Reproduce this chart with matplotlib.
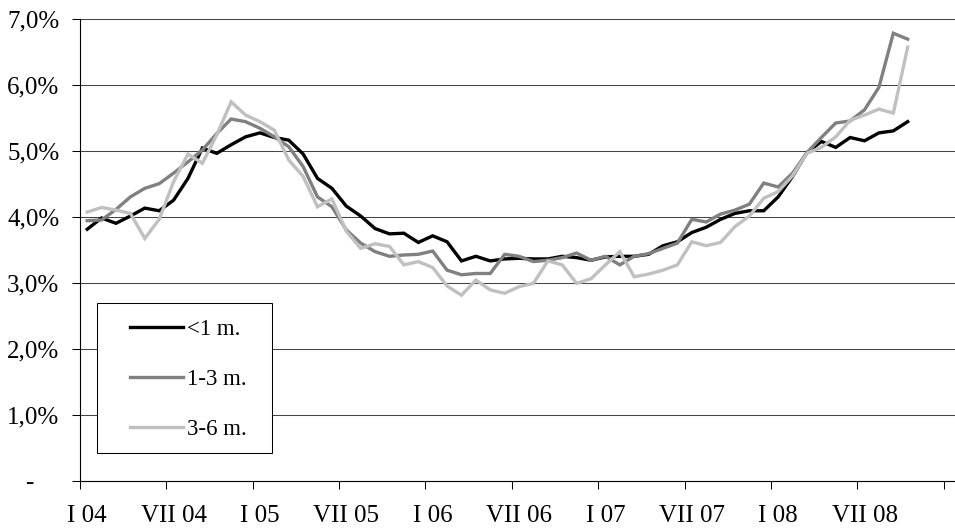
import matplotlib
matplotlib.use('Agg')
import matplotlib.pyplot as plt
from matplotlib.patches import Rectangle
from matplotlib.ticker import FixedLocator, FuncFormatter

# Monthly data, Jan 2004 .. Oct 2008
month_index = list(range(58))
tick_labels = ['I 04', 'VII 04', 'I 05', 'VII 05', 'I 06',
               'VII 06', 'I 07', 'VII 07', 'I 08', 'VII 08']
series_names = ['<1 m.', '1-3 m.', '3-6 m.']

under_1m = [3.81, 3.98, 3.90, 4.01, 4.13, 4.09, 4.25, 4.58, 5.04, 4.96,
            5.09, 5.21, 5.27, 5.20, 5.16, 4.95, 4.58, 4.43, 4.16, 4.01,
            3.82, 3.74, 3.75, 3.61, 3.71, 3.62, 3.33, 3.40, 3.33, 3.36,
            3.37, 3.36, 3.36, 3.40, 3.38, 3.34, 3.39, 3.40, 3.40, 3.43,
            3.56, 3.62, 3.76, 3.84, 3.96, 4.05, 4.09, 4.09, 4.30, 4.61,
            4.97, 5.14, 5.05, 5.20, 5.15, 5.27, 5.30, 5.44]
m1_3 = [3.94, 3.95, 4.11, 4.30, 4.43, 4.50, 4.66, 4.83, 5.01, 5.26,
        5.48, 5.44, 5.34, 5.21, 5.06, 4.76, 4.30, 4.15, 3.80, 3.60,
        3.47, 3.40, 3.42, 3.43, 3.48, 3.19, 3.12, 3.14, 3.14, 3.43,
        3.40, 3.32, 3.34, 3.38, 3.45, 3.34, 3.40, 3.27, 3.40, 3.44,
        3.52, 3.60, 3.96, 3.92, 4.04, 4.10, 4.19, 4.51, 4.45, 4.66,
        4.97, 5.20, 5.42, 5.45, 5.62, 5.96, 6.78, 6.69]
m3_6 = [4.07, 4.14, 4.10, 4.05, 3.67, 3.96, 4.53, 4.95, 4.81, 5.24,
        5.74, 5.54, 5.44, 5.31, 4.86, 4.61, 4.15, 4.27, 3.78, 3.52,
        3.59, 3.55, 3.27, 3.32, 3.23, 2.95, 2.81, 3.04, 2.89, 2.84,
        2.94, 2.99, 3.33, 3.27, 2.99, 3.06, 3.27, 3.47, 3.09, 3.13,
        3.19, 3.27, 3.62, 3.56, 3.61, 3.85, 4.01, 4.28, 4.38, 4.62,
        4.96, 5.05, 5.21, 5.46, 5.54, 5.63, 5.57, 6.57]
y_ticks = [0, 1, 2, 3, 4, 5, 6, 7]

series = [under_1m, m1_3, m3_6]
colors = ['#000000', '#808080', '#C0C0C0']

plt.rcParams['font.family'] = ['Liberation Serif', 'DejaVu Serif']

W, H = 955, 529
fig = plt.figure(figsize=(W / 100, H / 100), dpi=100)
ax = fig.add_axes([80 / W, 48.3 / H, 875 / W, 462 / H])

for vals, name, col in zip(series, series_names, colors):
    ax.plot(month_index, vals, color=col, lw=2.4, label=name,
            solid_joinstyle='miter', zorder=3)

ax.set_ylim(0, 7)
ax.set_xlim(-0.5, -0.5 + 875 / 14.395)

# y axis
ax.yaxis.set_major_locator(FixedLocator(y_ticks))
def yfmt(v, pos):
    if abs(v) < 1e-9:
        return '-    '
    return ('%.1f' % v).replace('.', ',') + '%'
ax.yaxis.set_major_formatter(FuncFormatter(yfmt))
ax.tick_params(axis='y', which='major', direction='out', length=5.8,
               width=0.75, color='black', pad=9, labelsize=18)

# x axis: ticks between categories, labels on category
ax.xaxis.set_major_locator(FixedLocator([-0.5 + 6 * k for k in range(11)]))
ax.xaxis.set_minor_locator(FixedLocator([6 * k for k in range(len(tick_labels))]))
ax.xaxis.set_major_formatter(FuncFormatter(lambda v, p: ''))
ax.xaxis.set_minor_formatter(FuncFormatter(lambda v, p: tick_labels[int(round(v / 6))]))
ax.tick_params(axis='x', which='major', direction='out', length=5.8,
               width=0.75, color='black')
ax.tick_params(axis='x', which='minor', length=0, pad=17.5, labelsize=18)

ax.grid(axis='y', color='#444444', lw=0.75, zorder=1)
for gl in ax.get_ygridlines():
    gl.set_clip_on(False)
ax.set_axisbelow(True)

for s in ['top', 'right']:
    ax.spines[s].set_visible(False)
for s in ['left', 'bottom']:
    ax.spines[s].set_color('black')
    ax.spines[s].set_linewidth(0.8)

# legend box
rect = Rectangle((97.3 / W, 76.3 / H), 175 / W, 150 / H,
                 transform=fig.transFigure, facecolor='white',
                 edgecolor='black', lw=0.75, zorder=4)
ax.add_patch(rect)
leg = ax.legend(loc='upper left', bbox_to_anchor=(130 / W, 1 - 319 / H),
                bbox_transform=fig.transFigure, frameon=False,
                borderpad=0, borderaxespad=0, handlelength=2.3,
                handletextpad=0.2, labelspacing=1.27, fontsize=16.5)
leg.set_zorder(5)

fig.savefig('out.png', dpi=100)
